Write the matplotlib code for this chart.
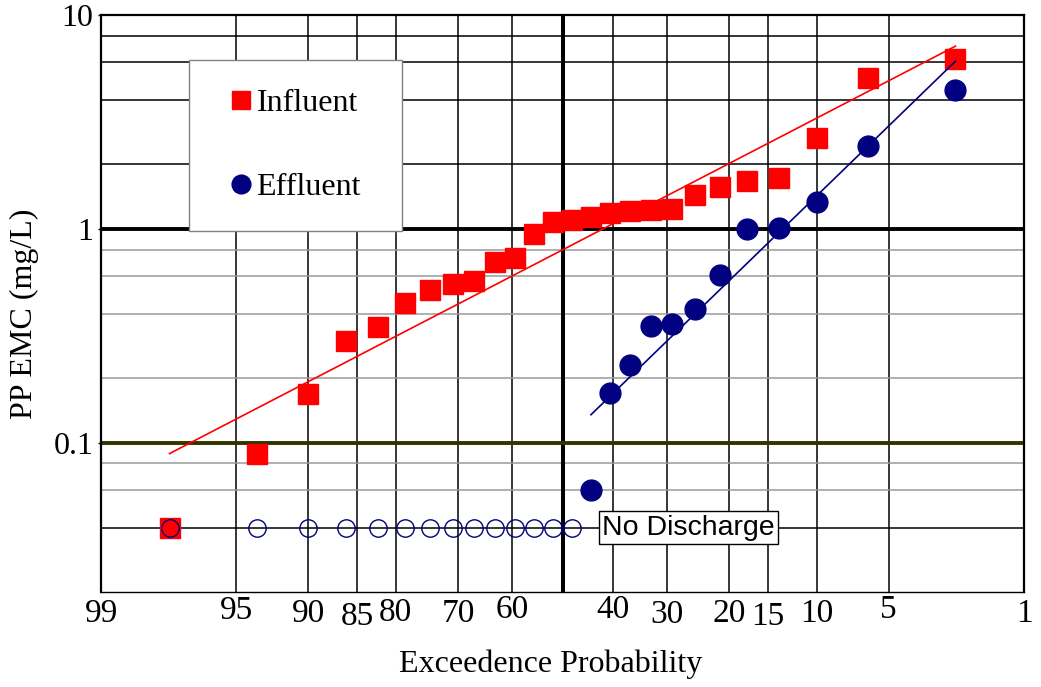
import numpy as np
import matplotlib
matplotlib.use("Agg")
import matplotlib.pyplot as plt
import matplotlib.transforms as mtransforms
from matplotlib.ticker import NullLocator
from matplotlib.font_manager import FontProperties
from statistics import NormalDist

plt.rcParams['font.family'] = ['Liberation Serif', 'DejaVu Serif']

# ---------------- data ----------------
exceed = [2.38, 6.19, 10.0, 13.81, 17.62, 21.43, 25.24, 29.05, 32.86, 36.67,
          40.48, 44.29, 48.10, 51.90, 55.71, 59.52, 63.33, 67.14, 70.95, 74.76,
          78.57, 82.38, 86.19, 90.0, 93.81, 97.62]
influent = [6.2, 5.1, 2.65, 1.72, 1.68, 1.575, 1.44, 1.24, 1.23, 1.215,
            1.19, 1.14, 1.10, 1.08, 0.947, 0.73, 0.70, 0.57, 0.55, 0.517,
            0.45, 0.347, 0.298, 0.168, 0.0888, 0.04]
effluent_exceed = [2.38, 6.19, 10.0, 13.81, 17.62, 21.43, 25.24, 29.05, 32.86,
                   36.67, 40.48, 44.29]
effluent = [4.45, 2.43, 1.33, 1.01, 1.0, 0.61, 0.42, 0.36, 0.35, 0.23, 0.17, 0.06]
nodischarge_exceed = [48.10, 51.90, 55.71, 59.52, 63.33, 67.14, 70.95, 74.76,
                      78.57, 82.38, 86.19, 90.0, 93.81, 97.62]
nodischarge_value = [0.04] * len(nodischarge_exceed)

influent_fit_p = [97.62, 2.38]
influent_fit_v = [0.0888, 7.15]
effluent_fit_p = [44.29, 2.38]
effluent_fit_v = [0.135, 6.08]

xtick_vals = [99, 95, 90, 85, 80, 70, 60, 40, 30, 20, 15, 10, 5, 1]
xtick_labels = ['99', '95', '90', '85', '80', '70', '60', '40', '30', '20', '15', '10', '5', '1']
ytick_vals = [0.1, 1, 10]
ytick_labels = ['0.1', '1', '10']

# ---------------- styling / layout ----------------
xtick_baseline_px = [622, 619, 622, 625, 621, 622, 618, 618, 623, 622, 625, 622, 618, 622]
vgrid = [95, 90, 85, 80, 70, 60, 40, 30, 20, 15, 10, 5]
hgrid_black = [0.04, 2, 4, 6, 8]
hgrid_gray = [0.06, 0.08, 0.2, 0.4, 0.6, 0.8]

ND = NormalDist()
_inv = np.vectorize(lambda q: ND.inv_cdf(q), otypes=[float])
_cdf = np.vectorize(lambda z: ND.cdf(z), otypes=[float])


def fwd(p):
    # exceedence probability (%) -> standard normal deviate
    p = np.clip(np.asarray(p, dtype=float), 1e-9, 100 - 1e-9)
    return _inv(p / 100.0)


def inv(z):
    z = np.clip(np.asarray(z, dtype=float), -30, 30)
    return 100.0 * _cdf(z)


W, H = 1041, 687
fig = plt.figure(figsize=(W / 100, H / 100), dpi=100)
ax = fig.add_axes([101 / W, 1 - 592 / H, 923 / W, 577 / H])

ax.set_yscale('log')
ax.set_xscale('function', functions=(fwd, inv))
ax.set_xlim(99, 1)
ax.set_ylim(0.02, 10)

# grid lines
for v in vgrid:
    ax.axvline(v, color='black', lw=1.1, zorder=1)
ax.axvline(50, color='black', lw=2.9, zorder=1.2)
for h in hgrid_gray:
    ax.axhline(h, color='#9a9a9a', lw=1.1, zorder=1)
for h in hgrid_black:
    ax.axhline(h, color='black', lw=1.1, zorder=1)
ax.axhline(1, color='black', lw=2.8, zorder=1.2)
ax.axhline(0.1, color='#333300', lw=2.8, zorder=1.2)

# data marks
inf_h, = ax.plot(exceed, influent, ls='none', marker='s', ms=15, mew=1,
                 color='#FF0000', mec='#FF0000', zorder=3, label='Influent')
eff_h, = ax.plot(effluent_exceed, effluent, ls='none', marker='o', ms=15, mew=1,
                 color='#000080', mec='#000080', zorder=3, label='Effluent')
ax.plot(nodischarge_exceed, nodischarge_value, ls='none', marker='o', ms=12.5,
        mfc='none', mec='#000080', mew=1.0, zorder=3.5)

ax.plot(influent_fit_p, influent_fit_v, color='#FF0000', lw=1.2, zorder=4)
ax.plot(effluent_fit_p, effluent_fit_v, color='#000080', lw=1.2, zorder=4)

# legend
leg = ax.legend(handles=[inf_h, eff_h], loc='upper left',
                bbox_to_anchor=(88 / 923, (592 - 226) / 577, 213 / 923, 166 / 577),
                mode='expand', borderaxespad=0, borderpad=0.9, labelspacing=1.72,
                handlelength=1.46, handletextpad=-0.25, markerscale=0.9,
                frameon=True, fancybox=False, edgecolor='#808080', framealpha=1,
                prop=FontProperties(family='Liberation Serif', size=23))
leg.get_frame().set_linewidth(1.0)
leg.set_zorder(6)

# No discharge label
ax.text(42.1, 0.04, 'No Discharge', ha='left', va='center', fontsize=20.5,
        family='Liberation Sans', zorder=6,
        bbox=dict(boxstyle='square,pad=0.12', fc='white', ec='black', lw=1.0))

# axes / ticks
ax.set_xticks([])
ax.xaxis.set_minor_locator(NullLocator())
ax.set_yticks(ytick_vals)
ax.set_yticklabels(ytick_labels)
ax.yaxis.set_minor_locator(NullLocator())
ax.tick_params(axis='y', which='major', length=2.4, width=1.0, direction='out',
               pad=3, labelsize=23, colors='black')

trans = mtransforms.blended_transform_factory(ax.transData, fig.transFigure)
for v, lab, b in zip(xtick_vals, xtick_labels, xtick_baseline_px):
    ax.text(v, 1 - b / H, lab, transform=trans, ha='center', va='baseline',
            fontsize=24, clip_on=False)

for s in ['top', 'left', 'right']:
    ax.spines[s].set_linewidth(1.6)
ax.spines['bottom'].set_linewidth(1.0)
for s in ax.spines.values():
    s.set_zorder(5)

fig.text(551 / W, 1 - 672 / H, 'Exceedence Probability', ha='center',
         va='baseline', fontsize=23)
fig.text(24 / W, 1 - 314 / H, 'PP EMC (mg/L)', ha='center', va='center',
         rotation=90, fontsize=23)

fig.savefig('out.png', dpi=100, facecolor='white')
